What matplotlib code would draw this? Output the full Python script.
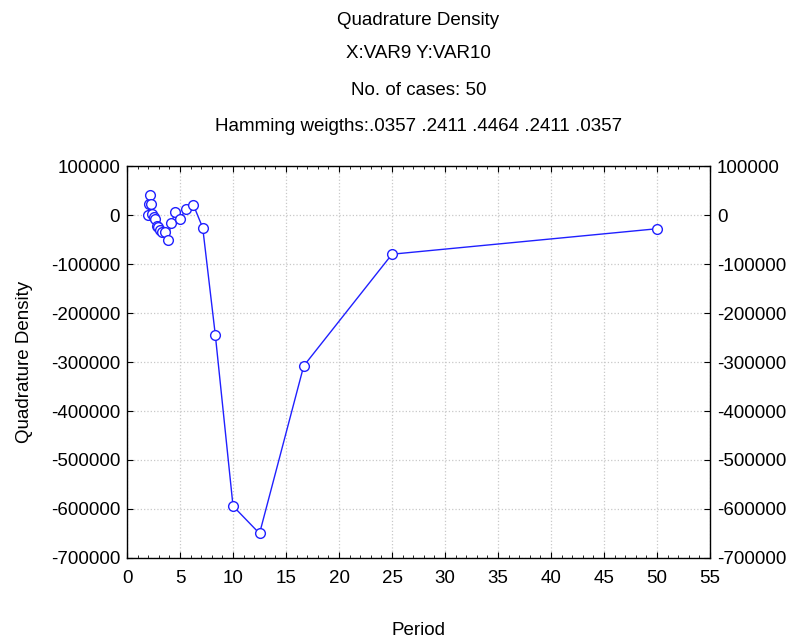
import numpy as np
import matplotlib.pyplot as plt
from matplotlib.ticker import MultipleLocator

plt.rcParams['font.family'] = ['Liberation Sans', 'DejaVu Sans']
plt.rcParams['axes.unicode_minus'] = False

# periods (50/k) and quadrature density values
period = [2.0, 2.08, 2.17, 2.27, 2.38, 2.5, 2.63, 2.78, 2.94, 3.125, 3.33, 3.57, 3.85,
          4.17, 4.55, 5.0, 5.56, 6.25, 7.14, 8.33, 10.0, 12.5, 16.67, 25.0, 50.0]
quad = [0, 22000, 40000, 22000, 2000, -4000, -8000, -22000, -24000, -30000, -34000, -34000, -50000,
        -16000, 6000, -8000, 12000, 21000, -26000, -245000, -594000, -650000, -308000, -80000, -28000]

title_lines = ['Quadrature Density', 'X:VAR9 Y:VAR10', 'No. of cases: 50',
               'Hamming weigths:.0357 .2411 .4464 .2411 .0357']

fig = plt.figure(figsize=(7.91, 6.41), dpi=100)
ax = fig.add_axes([0.1606, 0.1295, 0.8976 - 0.1606, 0.741 - 0.1295])

ax.plot(period, quad, color='#2020ff', lw=1.0, marker='o', ms=7,
        mfc='white', mec='#2020ff', mew=1.0, zorder=3)

ax.set_xlim(0, 55)
ax.set_ylim(-700000, 100000)
ax.xaxis.set_major_locator(MultipleLocator(5))
ax.xaxis.set_minor_locator(MultipleLocator(1))
ax.yaxis.set_major_locator(MultipleLocator(100000))
ax.grid(True, which='major', color='#c8c8c8', ls=':', lw=0.9)

ax.tick_params(axis='both', which='major', labelsize=13.5, direction='in', length=4, width=0.8)
ax.tick_params(axis='x', which='minor', direction='in', length=2, top=True, bottom=True)
ax.tick_params(axis='x', which='major', top=True, bottom=True, pad=9)
ax.tick_params(axis='y', which='major', left=True, right=True, labelleft=True, labelright=True, pad=5)
for s in ax.spines.values():
    s.set_linewidth(1.0)

ax.set_xlabel('Period', fontsize=13.5, labelpad=25)
ax.set_ylabel('Quadrature Density', fontsize=13.5, labelpad=13)

ys = [0.968, 0.916, 0.859, 0.802]
for t, y in zip(title_lines, ys):
    fig.text(0.529, y, t, ha='center', va='center', fontsize=13.5)

fig.savefig('out.png', dpi=100)
